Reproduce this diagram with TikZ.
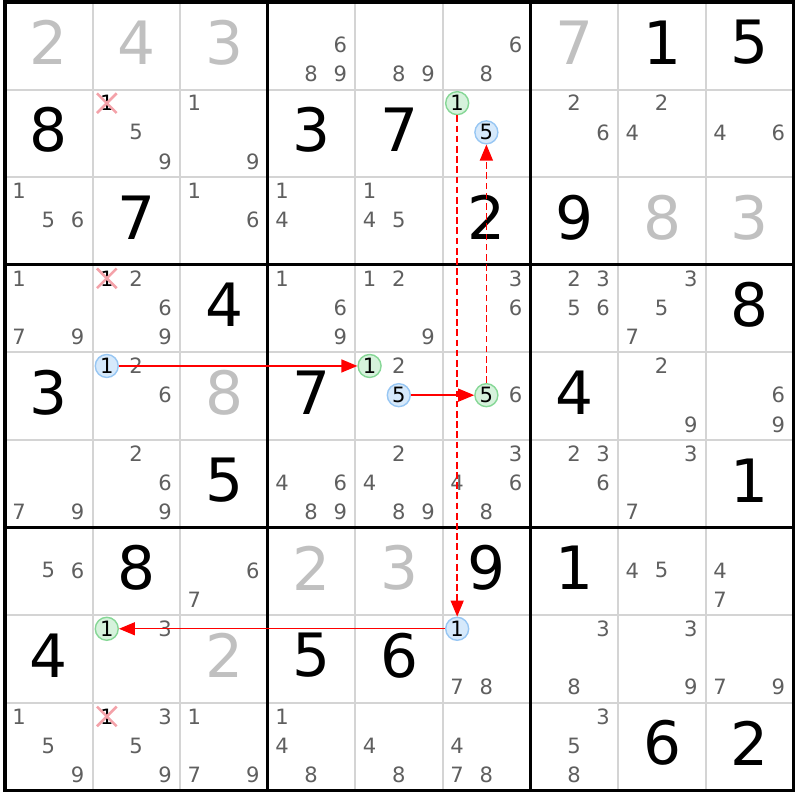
\documentclass[tikz,border=0pt]{standalone}
\usepackage{fontspec}
\setmainfont{DejaVu Sans}
\usetikzlibrary{arrows.meta,shapes.misc}
\definecolor{candgray}{HTML}{5F5F5F}
\definecolor{givengray}{HTML}{C0C0C0}
\definecolor{gridgray}{HTML}{D4D4D4}
\definecolor{bluefill}{HTML}{D6E9FB}
\definecolor{blueline}{HTML}{97C6F3}
\definecolor{greenfill}{HTML}{D6F2DC}
\definecolor{greenline}{HTML}{86D796}
\definecolor{xpink}{HTML}{F4A2A9}
\tikzset{cand/.append style={inner sep=0pt, text=candgray, font=\fontsize{6}{6}\selectfont}}
\tikzset{dig/.append style={inner sep=0pt, font=\fontsize{17}{17}\selectfont}}
\tikzset{gv/.append style={text=givengray}}
\tikzset{bl/.append style={circle, draw=blueline, fill=bluefill, line width=0.4pt, minimum size=0.23cm, text=black}}
\tikzset{gr/.append style={circle, draw=greenline, fill=greenfill, line width=0.4pt, minimum size=0.23cm, text=black}}
\tikzset{struck/.append style={cross out, draw=xpink, line width=0.75pt, minimum size=0.17cm, text=black}}
\tikzset{link/.append style={red, line width=0.4pt, -{Triangle[length=0.16cm,width=0.13cm]}}}
\tikzset{weak/.append style={dash pattern=on 1.9pt off 1pt}}
\newcommand{\candat}[4][]{%
  \pgfmathsetmacro{\cx}{#3-1.005+(2*mod(#4-1,3)+1)/6}%
  \pgfmathsetmacro{\cy}{10.012-#2-(2*floor((#4-1)/3)+1)/6}%
  \node[cand,#1] (r#2c#3d#4) at (\cx,\cy) {#4};}
\newcommand{\cands}[3]{\foreach \d in {#3}{\candat{#1}{#2}{\d}}}
\newcommand{\digat}[4][]{\node[dig,#1] (r#2c#3) at (#3-0.5,9.54-#2) {#4};}

\begin{document}
\begin{tikzpicture}[x=0.876cm, y=0.876cm]
                \useasboundingbox (-0.057,-0.109) rectangle (9.075,9.023);
                \draw[gridgray, line width=0.57pt] (0,0) grid[step=1] (9,9);
                \draw[line width=0.85pt] (0,0) grid[step=3] (9,9);
                \draw[line width=1pt] (0,0) rectangle (9,9);
                % row 1
                \digat[gv]{1}{1}{2}
                \digat[gv]{1}{2}{4}
                \digat[gv]{1}{3}{3}
                \cands{1}{4}{6,8,9}
                \cands{1}{5}{8,9}
                \cands{1}{6}{6,8}
                \digat[gv]{1}{7}{7}
                \digat{1}{8}{1}
                \digat{1}{9}{5}
                % row 2
                \digat{2}{1}{8}
                \candat[struck]{2}{2}{1}
                \cands{2}{2}{5,9}
                \cands{2}{3}{1,9}
                \digat{2}{4}{3}
                \digat{2}{5}{7}
                \candat[gr]{2}{6}{1}
                \candat[bl]{2}{6}{5}
                \cands{2}{7}{2,6}
                \cands{2}{8}{2,4}
                \cands{2}{9}{4,6}
                % row 3
                \cands{3}{1}{1,5,6}
                \digat{3}{2}{7}
                \cands{3}{3}{1,6}
                \cands{3}{4}{1,4}
                \cands{3}{5}{1,4,5}
                \digat{3}{6}{2}
                \digat{3}{7}{9}
                \digat[gv]{3}{8}{8}
                \digat[gv]{3}{9}{3}
                % row 4
                \cands{4}{1}{1,7,9}
                \candat[struck]{4}{2}{1}
                \cands{4}{2}{2,6,9}
                \digat{4}{3}{4}
                \cands{4}{4}{1,6,9}
                \cands{4}{5}{1,2,9}
                \cands{4}{6}{3,6}
                \cands{4}{7}{2,3,5,6}
                \cands{4}{8}{3,5,7}
                \digat{4}{9}{8}
                % row 5
                \digat{5}{1}{3}
                \candat[bl]{5}{2}{1}
                \cands{5}{2}{2,6}
                \digat[gv]{5}{3}{8}
                \digat{5}{4}{7}
                \candat[gr]{5}{5}{1}
                \candat{5}{5}{2}
                \candat[bl]{5}{5}{5}
                \candat[gr]{5}{6}{5}
                \candat{5}{6}{6}
                \digat{5}{7}{4}
                \cands{5}{8}{2,9}
                \cands{5}{9}{6,9}
                % row 6
                \cands{6}{1}{7,9}
                \cands{6}{2}{2,6,9}
                \digat{6}{3}{5}
                \cands{6}{4}{4,6,8,9}
                \cands{6}{5}{2,4,8,9}
                \cands{6}{6}{3,4,6,8}
                \cands{6}{7}{2,3,6}
                \cands{6}{8}{3,7}
                \digat{6}{9}{1}
                % row 7
                \cands{7}{1}{5,6}
                \digat{7}{2}{8}
                \cands{7}{3}{6,7}
                \digat[gv]{7}{4}{2}
                \digat[gv]{7}{5}{3}
                \digat{7}{6}{9}
                \digat{7}{7}{1}
                \cands{7}{8}{4,5}
                \cands{7}{9}{4,7}
                % row 8
                \digat{8}{1}{4}
                \candat[gr]{8}{2}{1}
                \candat{8}{2}{3}
                \digat[gv]{8}{3}{2}
                \digat{8}{4}{5}
                \digat{8}{5}{6}
                \candat[bl]{8}{6}{1}
                \cands{8}{6}{7,8}
                \cands{8}{7}{3,8}
                \cands{8}{8}{3,9}
                \cands{8}{9}{7,9}
                % row 9
                \cands{9}{1}{1,5,9}
                \candat[struck]{9}{2}{1}
                \cands{9}{2}{3,5,9}
                \cands{9}{3}{1,7,9}
                \cands{9}{4}{1,4,8}
                \cands{9}{5}{4,8}
                \cands{9}{6}{4,7,8}
                \cands{9}{7}{3,5,8}
                \digat{9}{8}{6}
                \digat{9}{9}{2}
                % chain
                \draw[link] (r5c2d1) -- (r5c5d1);
                \draw[link] (r5c5d5) -- (r5c6d5);
                \draw[link,weak] (r5c6d5) -- (r2c6d5);
                \draw[link,weak] (r2c6d1) -- (r8c6d1);
                \draw[link] (r8c6d1) -- (r8c2d1);
            \end{tikzpicture}
\end{document}
